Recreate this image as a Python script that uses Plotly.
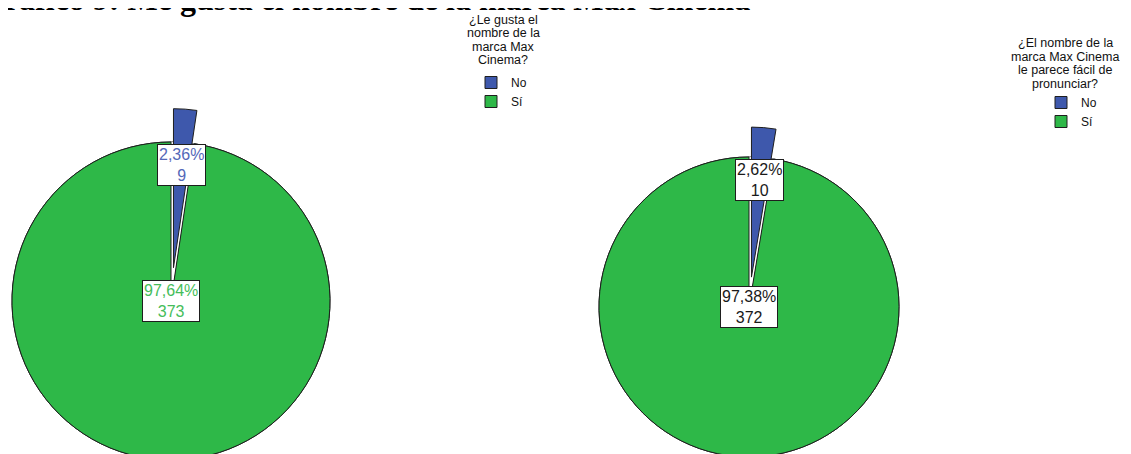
import math
import plotly.graph_objects as go

# ---------------- data ----------------
labels = ["No", "Sí"]
gusta_values = [9, 373]
pronunciar_values = [10, 372]
legend_title_gusta = ["¿Le gusta el", "nombre de la", "marca Max", "Cinema?"]
legend_title_pron = ["¿El nombre de la", "marca Max Cinema", "le parece fácil de", "pronunciar?"]
chart_title = "Gráfico 9: Me gusta el nombre de la marca Max Cinema"

# ---------------- style ----------------
colors = ["#3E58AC", "#2EB848"]
edge = "#1e1e1e"
W, H = 1123, 460          # page shows the figure offset by the body margin
SANS = "Liberation Sans, Arial, sans-serif"


def fx(px):
    return px / W


def fy(py):
    return 1 - py / H


pie_specs = [
    dict(values=gusta_values, cx=163, cy=293, r=159, pull=0.21, legend="legend", group="g1",
         text_colors=["#5468b8", "#45bd5a"], label_frac=[0.65, 0.0]),
    dict(values=pronunciar_values, cx=741, cy=299, r=150, pull=0.20, legend="legend2", group="g2",
         text_colors=["#1a1a1a", "#1a1a1a"], label_frac=[0.65, 0.0]),
]

fig = go.Figure()
annotations = []

for spec in pie_specs:
    vals = spec["values"]
    total = sum(vals)
    cx, cy, r = spec["cx"], spec["cy"], spec["r"]
    theta = math.pi * vals[0] / total  # bisector of first slice (clockwise from top)
    d = spec["pull"] * r
    pcx, pcy = cx + d * math.sin(theta), cy - d * math.cos(theta)

    def dom(x0, y0):
        return dict(x=[fx(x0 - r), fx(x0 + r)], y=[fy(y0 + r), fy(y0 - r)])

    common = dict(labels=labels, values=vals, sort=False, direction="clockwise", rotation=0,
                  textinfo="none", hoverinfo="skip", legend=spec["legend"],
                  legendgroup=spec["group"])
    # full pie (provides legend swatches)
    fig.add_trace(go.Pie(**common, domain=dom(cx, cy), showlegend=True,
                         marker=dict(colors=colors, line=dict(color=edge, width=1))))
    # remaining slice with the exploded slice removed
    fig.add_trace(go.Pie(**common, domain=dom(cx, cy), showlegend=False,
                         marker=dict(colors=["white", colors[1]],
                                     line=dict(color=["rgba(0,0,0,0)", edge], width=1))))
    # exploded slice
    fig.add_trace(go.Pie(**common, domain=dom(pcx, pcy), showlegend=False,
                         marker=dict(colors=[colors[0], "rgba(0,0,0,0)"],
                                     line=dict(color=[edge, "rgba(0,0,0,0)"], width=1))))

    # value labels
    start = 0.0
    for i, v in enumerate(vals):
        mid = (start + v / 2) / total * 2 * math.pi
        start += v
        bx, by = (pcx, pcy) if i == 0 else (cx, cy)
        lr = spec["label_frac"][i] * r
        lx, ly = bx + lr * math.sin(mid), by - lr * math.cos(mid)
        pct = f"{100 * v / total:.2f}".replace(".", ",")
        annotations.append(dict(
            x=fx(lx), y=fy(ly), xref="paper", yref="paper", showarrow=False,
            text=f"{pct}%<br>{v}", align="center",
            font=dict(family=SANS, size=16, color=spec["text_colors"][i]),
            bgcolor="white", bordercolor=edge, borderwidth=1, borderpad=1,
            xanchor="center", yanchor="middle"))

# legend titles (one line each, tight line spacing)
for lines, cxl, y0 in [(legend_title_gusta, 495, 12), (legend_title_pron, 1057, 35.3)]:
    for k, line in enumerate(lines):
        annotations.append(dict(x=fx(cxl), y=fy(y0 + 13.5 * k), xref="paper", yref="paper",
                                showarrow=False, text=line, xanchor="center", yanchor="middle",
                                font=dict(family=SANS, size=12.5, color="#111")))

# chart title (clipped at the top edge like the reference)
annotations.append(dict(x=fx(-30), y=fy(-9.5), xref="paper", yref="paper", showarrow=False,
                        text=f"<b>{chart_title}</b>", xanchor="left", yanchor="middle",
                        font=dict(family="Liberation Serif, Times New Roman, serif", size=32,
                                  color="black")))

leg_common = dict(xanchor="left", yanchor="top", bgcolor="rgba(0,0,0,0)", borderwidth=0,
                  font=dict(family=SANS, size=12, color="#111"), traceorder="normal",
                  itemclick=False, itemdoubleclick=False)
fig.update_layout(
    width=W, height=H,
    margin=dict(l=0, r=0, t=0, b=0),
    paper_bgcolor="white", plot_bgcolor="white",
    showlegend=True,
    legend=dict(x=fx(463), y=fy(60), **leg_common),
    legend2=dict(x=fx(1033), y=fy(80), **leg_common),
    annotations=annotations,
)

fig.write_html("out.html")
